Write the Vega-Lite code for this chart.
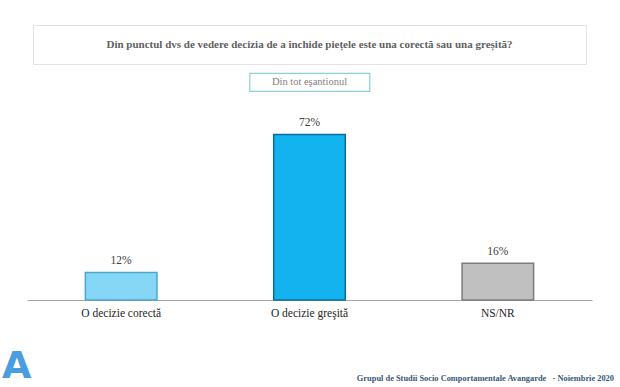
{
  "$schema": "https://vega.github.io/schema/vega-lite/v6.json",
  "background": "white",
  "padding": {"left": 2, "top": 24, "right": 4, "bottom": 0},
  "center": true,
  "bounds": "flush",
  "spacing": 9,
  "config": {
    "font": "Liberation Serif"
  },
  "vconcat": [
    {
      "width": 553,
      "height": 39,
      "view": {"stroke": "#e3e3e6", "strokeWidth": 1},
      "data": {"values": [{"t": "Din punctul dvs de vedere decizia de a închide piețele este una corectă sau una greșită?"}]},
      "mark": {"type": "text", "font": "Liberation Serif", "fontSize": 11, "fontWeight": "bold", "color": "#5f5f5f", "baseline": "middle", "align": "center"},
      "encoding": {"text": {"field": "t"}}
    },
    {
      "width": 120,
      "height": 18,
      "view": {"stroke": "#8fcfd3", "strokeWidth": 1.2},
      "data": {"values": [{"t": "Din tot eşantionul"}]},
      "mark": {"type": "text", "font": "Liberation Serif", "fontSize": 10.5, "color": "#808080", "baseline": "middle", "align": "center"},
      "encoding": {"text": {"field": "t"}}
    },
    {
      "width": 565,
      "height": 200,
      "view": {"stroke": null},
      "data": {"values": [
        {"raspuns": "O decizie corectă", "procent": 0.12},
        {"raspuns": "O decizie greşită", "procent": 0.72},
        {"raspuns": "NS/NR", "procent": 0.16}
      ]},
      "encoding": {
        "x": {
          "field": "raspuns",
          "type": "nominal",
          "sort": null,
          "scale": {"paddingInner": 0.62, "paddingOuter": 0.31},
          "axis": {
            "title": null,
            "labelAngle": 0,
            "ticks": false,
            "domainColor": "#a6a6a6",
            "domainWidth": 1.2,
            "labelFont": "Liberation Serif",
            "labelFontSize": 11.5,
            "labelColor": "#262626",
            "labelPadding": 7
          }
        },
        "y": {
          "field": "procent",
          "type": "quantitative",
          "scale": {"domain": [0, 0.87]},
          "axis": null
        }
      },
      "layer": [
        {
          "mark": {"type": "bar", "strokeWidth": 1.5},
          "encoding": {
            "fill": {
              "field": "raspuns",
              "type": "nominal",
              "sort": null,
              "scale": {"range": ["#86d6f8", "#12b3ee", "#c0c0c0"]},
              "legend": null
            },
            "stroke": {
              "field": "raspuns",
              "type": "nominal",
              "sort": null,
              "scale": {"range": ["#4aa6cc", "#0a6c9e", "#7c7c7c"]},
              "legend": null
            }
          }
        },
        {
          "mark": {"type": "text", "baseline": "bottom", "dy": -6, "font": "Liberation Serif", "fontSize": 11.5, "color": "#404040"},
          "encoding": {
            "text": {"field": "procent", "type": "quantitative", "format": ".0%"}
          }
        }
      ]
    },
    {
      "width": 565,
      "height": 74,
      "view": {"stroke": null},
      "data": {"values": [{"t": "Grupul de Studii Socio Comportamentale Avangarde \u00a0\u00a0- Noiembrie 2020", "logo": "A"}]},
      "layer": [
        {
          "mark": {"type": "text", "font": "Liberation Serif", "fontSize": 8.4, "fontWeight": "bold", "color": "#3b5878", "align": "right", "baseline": "alphabetic", "dx": 22, "dy": -2},
          "encoding": {
            "text": {"field": "t"},
            "x": {"value": "width"},
            "y": {"value": "height"}
          }
        },
        {
          "mark": {"type": "text", "font": "DejaVu Sans", "fontSize": 38, "fontWeight": "bold", "color": "#4a9ee0", "align": "left", "baseline": "alphabetic", "dx": -25, "dy": -5},
          "encoding": {
            "text": {"field": "logo"},
            "x": {"value": 0},
            "y": {"value": "height"}
          }
        }
      ]
    }
  ]
}
